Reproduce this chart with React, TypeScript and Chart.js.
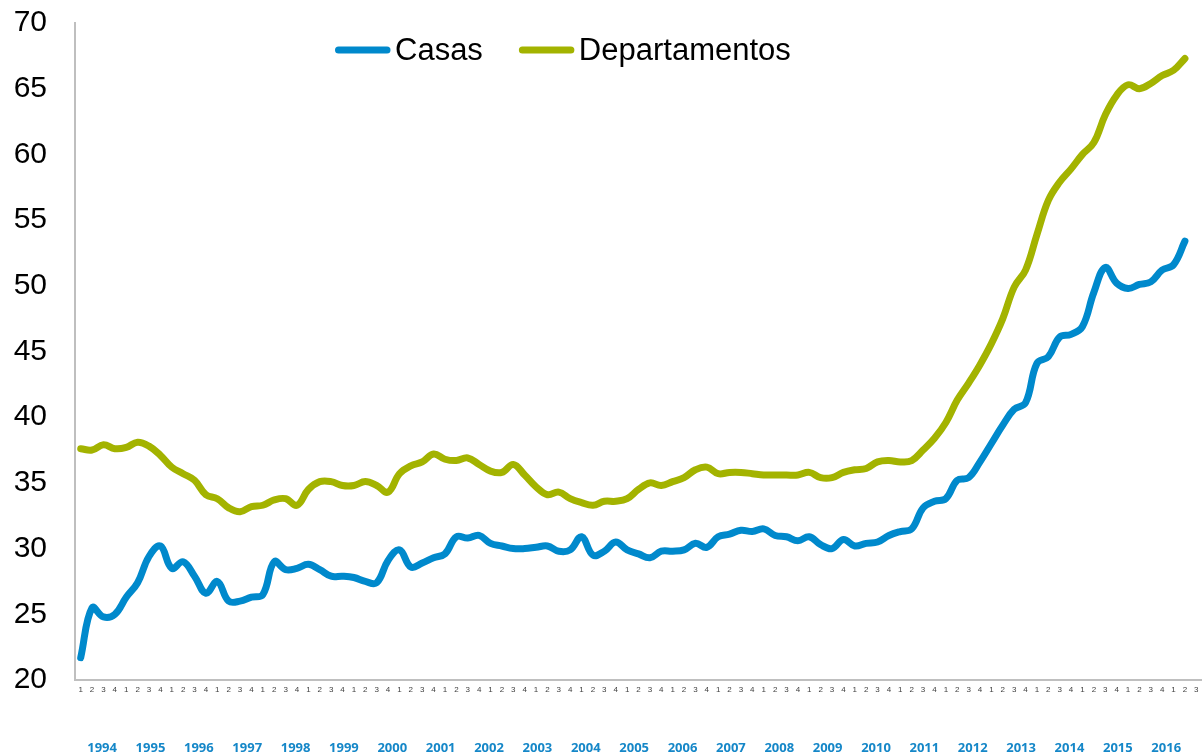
import React, { useEffect, useRef } from "react";
import { Chart, registerables } from "chart.js";

Chart.register(...registerables);

// Quarter numbers shown under the axis (99 categories, ending on quarter 3)
const quarterLabels: string[] = Array.from({ length: 99 }, (_, i) => String((i % 4) + 1));

// Year captions shown in the bottom row
const yearLabels: number[] = [
  1994, 1995, 1996, 1997, 1998, 1999, 2000, 2001, 2002, 2003, 2004, 2005,
  2006, 2007, 2008, 2009, 2010, 2011, 2012, 2013, 2014, 2015, 2016,
];

const casas: number[] = [
  21.7, 25.5, 24.8, 25.0, 26.3, 27.4, 29.4, 30.2, 28.5, 29.0,
  27.9, 26.6, 27.5, 26.0, 26.0, 26.3, 26.5, 29.0, 28.4, 28.5,
  28.8, 28.4, 27.9, 27.9, 27.8, 27.5, 27.4, 29.1, 29.9, 28.6,
  28.9, 29.3, 29.6, 30.9, 30.8, 31.0, 30.4, 30.2, 30.0, 30.0,
  30.1, 30.2, 29.8, 29.9, 30.9, 29.5, 29.8, 30.5, 29.9, 29.6,
  29.3, 29.8, 29.8, 29.9, 30.4, 30.1, 30.9, 31.1, 31.4, 31.3,
  31.5, 31.0, 30.9, 30.6, 30.9, 30.3, 30.0, 30.7, 30.2, 30.4,
  30.5, 31.0, 31.3, 31.5, 33.1, 33.6, 33.8, 35.2, 35.4, 36.6,
  38.0, 39.4, 40.6, 41.1, 44.1, 44.6, 46.1, 46.3, 46.9, 49.5,
  51.4, 50.2, 49.8, 50.1, 50.3, 51.2, 51.6, 53.4,
];

const departamentos: number[] = [
  37.6, 37.5, 37.9, 37.6, 37.7, 38.1, 37.8, 37.1, 36.2, 35.7,
  35.2, 34.1, 33.8, 33.1, 32.8, 33.2, 33.3, 33.7, 33.8, 33.3,
  34.5, 35.1, 35.1, 34.8, 34.8, 35.1, 34.8, 34.3, 35.7, 36.3,
  36.6, 37.2, 36.8, 36.7, 36.9, 36.4, 35.9, 35.8, 36.4, 35.6,
  34.7, 34.1, 34.3, 33.8, 33.5, 33.3, 33.6, 33.6, 33.8, 34.5,
  35.0, 34.8, 35.1, 35.4, 36.0, 36.2, 35.7, 35.8, 35.8, 35.7,
  35.6, 35.6, 35.6, 35.6, 35.8, 35.4, 35.4, 35.8, 36.0, 36.1,
  36.6, 36.7, 36.6, 36.7, 37.5, 38.4, 39.6, 41.3, 42.6, 44.0,
  45.6, 47.5, 49.9, 51.2, 53.9, 56.5, 57.9, 58.9, 60.0, 60.9,
  63.0, 64.5, 65.3, 65.0, 65.4, 66.0, 66.4, 67.3,
];

const seriesNames = ["Casas", "Departamentos"];
const BLUE = "#0089CC";
const GREEN = "#A3B300";

const legendPlugin = {
  id: "insideLegend",
  afterDraw(chart: any) {
    const ctx = chart.ctx;
    ctx.save();
    ctx.font = "31px 'Liberation Sans', Arial, sans-serif";
    ctx.textBaseline = "middle";
    ctx.textAlign = "left";
    let x = 335;
    const y = 50;
    chart.data.datasets.forEach((ds: any) => {
      ctx.strokeStyle = ds.borderColor;
      ctx.lineWidth = 7;
      ctx.lineCap = "round";
      ctx.beginPath();
      ctx.moveTo(x + 3.5, y);
      ctx.lineTo(x + 52, y);
      ctx.stroke();
      ctx.fillStyle = "#000000";
      ctx.fillText(ds.label, x + 60, y + 1);
      const w = ctx.measureText(ds.label).width;
      x += 60 + w + 36;
    });
    ctx.restore();
  },
};

const clearPadding = (scale: any) => {
  scale.paddingTop = 0;
  scale.paddingBottom = 0;
  scale.paddingLeft = 0;
  scale.paddingRight = 0;
};

export default function App() {
  const canvasRef = useRef<HTMLCanvasElement | null>(null);

  useEffect(() => {
    document.body.style.margin = "0";
    const canvas = canvasRef.current;
    if (!canvas) return;
    const chart = new Chart(canvas, {
      type: "line",
      data: {
        labels: quarterLabels,
        datasets: [
          {
            label: seriesNames[0],
            data: casas,
            borderColor: BLUE,
            backgroundColor: BLUE,
            borderWidth: 7,
            pointRadius: 0,
            tension: 0.4,
            borderCapStyle: "round",
            borderJoinStyle: "round",
            xAxisID: "x",
          },
          {
            label: seriesNames[1],
            data: departamentos,
            borderColor: GREEN,
            backgroundColor: GREEN,
            borderWidth: 7,
            pointRadius: 0,
            tension: 0.4,
            borderCapStyle: "round",
            borderJoinStyle: "round",
            xAxisID: "x",
          },
        ],
      },
      options: {
        responsive: false,
        animation: false,
        layout: { padding: { top: 23, left: 0, right: 0, bottom: 0 } },
        plugins: {
          legend: { display: false },
          tooltip: { enabled: false },
        },
        scales: {
          x: {
            type: "category",
            position: "bottom",
            weight: 0,
            offset: true,
            grid: { display: false, drawTicks: false },
            border: { display: true, color: "#BFBFBF", width: 2 },
            ticks: {
              autoSkip: false,
              maxRotation: 0,
              minRotation: 0,
              padding: 5,
              color: "#404040",
              font: { family: "'Liberation Sans', Arial, sans-serif", size: 8 },
            },
            afterFit: (scale: any) => {
              scale.height = 20;
              clearPadding(scale);
            },
          },
          x2: {
            type: "linear",
            position: "bottom",
            weight: 1,
            min: 1993.44,
            max: 2016.74,
            grid: { display: false, drawTicks: false },
            border: { display: false },
            afterBuildTicks: (scale: any) => {
              scale.ticks = yearLabels.map((v) => ({ value: v }));
            },
            ticks: {
              autoSkip: false,
              maxRotation: 0,
              padding: 40,
              color: "#1587C8",
              font: { family: "'Open Sans', sans-serif", size: 13, weight: "bold" },
              callback: (v: any) => String(v),
            },
            afterFit: (scale: any) => {
              scale.height = 52;
              clearPadding(scale);
            },
          },
          y: {
            type: "linear",
            min: 20,
            max: 70,
            grid: { display: false, drawTicks: false },
            border: { display: true, color: "#BFBFBF", width: 2 },
            ticks: {
              stepSize: 5,
              padding: 28,
              color: "#000000",
              font: { family: "'Liberation Sans', Arial, sans-serif", size: 30 },
            },
            afterFit: (scale: any) => {
              scale.width = 75;
              clearPadding(scale);
            },
          },
        },
      },
      plugins: [legendPlugin],
    });
    return () => chart.destroy();
  }, []);

  return (
    <div style={{ width: 1202, height: 752 }}>
      <canvas ref={canvasRef} width={1202} height={752} style={{ display: "block" }} />
    </div>
  );
}
